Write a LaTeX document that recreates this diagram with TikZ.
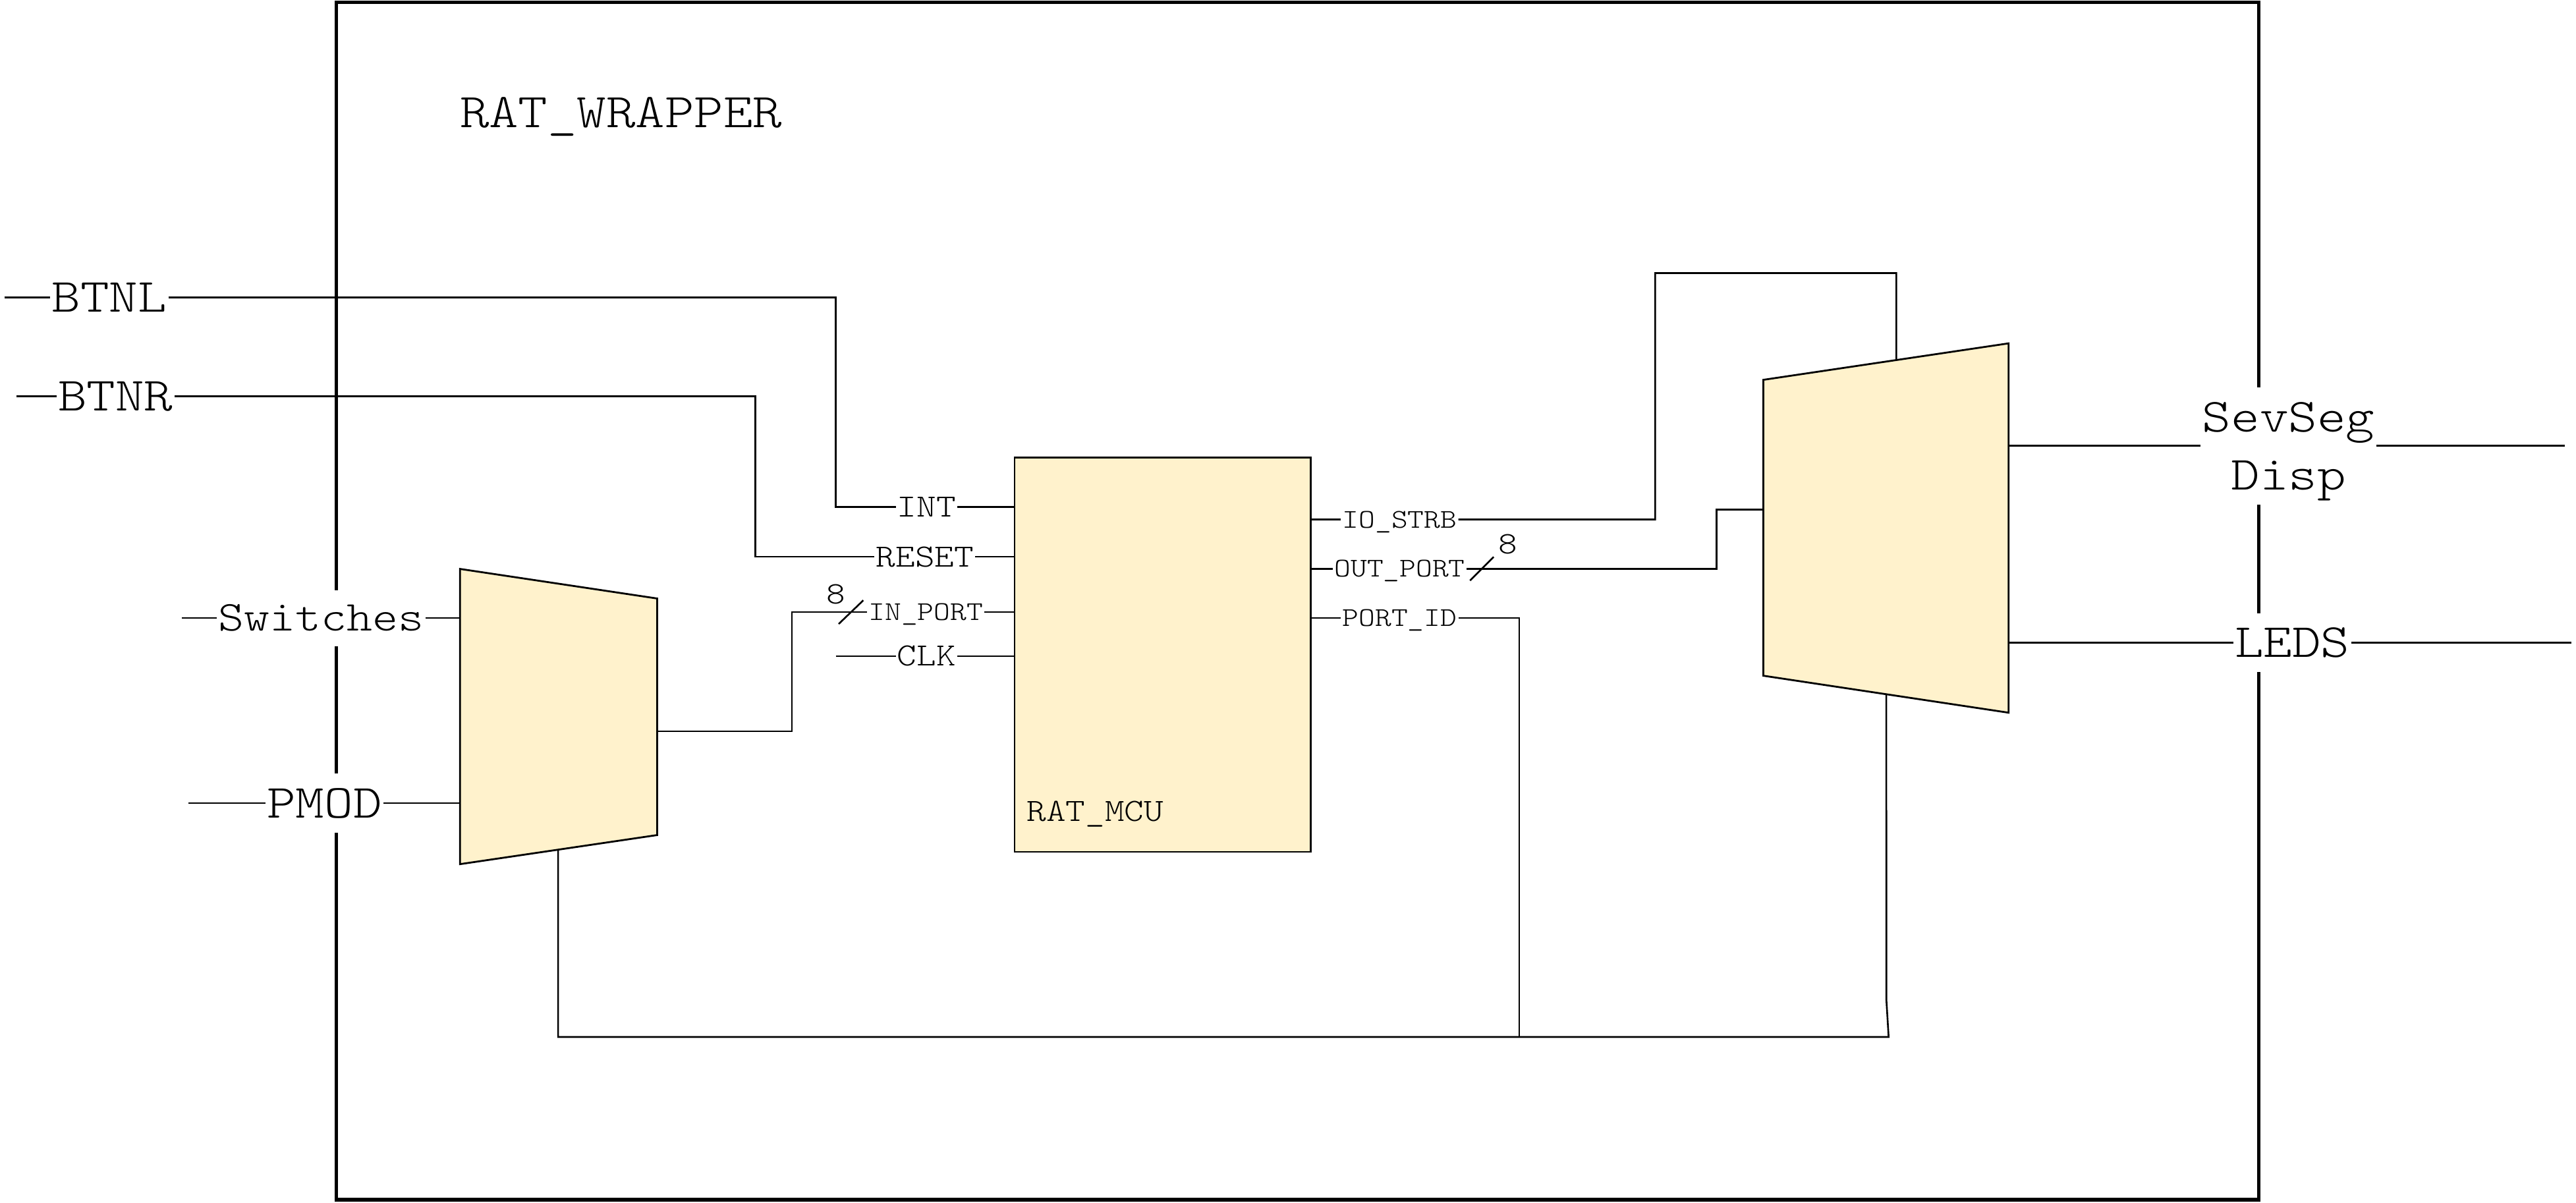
\documentclass[tikz,border=0pt]{standalone}
\usepackage{fontspec}
\setmonofont{lmmonolt10-regular.otf}[FakeStretch=1.15]
\usetikzlibrary{calc}
\definecolor{blockfill}{RGB}{255,242,204}
\tikzset{
    wrapbox/.style={draw=black,line width=1.5pt},
    blockbox/.style={draw=black,fill=blockfill,line width=0.8pt},
    wire/.style={draw=black,line width=0.75pt},
    extsig/.style={font=\ttfamily\fontsize{20.6}{24}\selectfont,fill=white,inner xsep=0.5pt,inner ysep=6.5pt,text height=12.6pt,text depth=0pt},
    pinbig/.style={font=\ttfamily\fontsize{14}{16}\selectfont,inner xsep=0.5pt,inner ysep=1pt,text height=8.55pt,text depth=0pt},
    pinsmall/.style={font=\ttfamily\fontsize{11.7}{14}\selectfont,inner xsep=0.5pt,inner ysep=1pt,text height=7.15pt,text depth=0pt},
    buswidth/.style={font=\ttfamily\fontsize{13.5}{15}\selectfont,inner sep=0pt,text height=8.2pt,text depth=0pt}
}
\begin{document}
\begin{tikzpicture}[x=0.025cm,y=-0.025cm]
    \useasboundingbox (0,0) rectangle (1568,732);
    \draw[wrapbox] (204.6,1.3) rectangle (1374.9,730.3);
    \node[font=\ttfamily\fontsize{21}{24}\selectfont,anchor=base] (wrapname) at (378,77.5) {RAT\_WRAPPER};

    \node[blockbox,minimum width=4.505cm,minimum height=5.998cm,inner sep=0pt] (mcu) at (707.7,398.55) {};
    \node[pinbig,anchor=base west] (mcuname) at (624,499.7) {RAT\_MCU};

    \coordinate (m1tl) at (280,346.3);
    \coordinate (m1tr) at (400,364.3);
    \coordinate (m1br) at (400,508.3);
    \coordinate (m1bl) at (280,526);
    \draw[blockbox] (m1tl) -- (m1tr) -- (m1br) -- (m1bl) -- cycle;
    \coordinate (m2tl) at (1073.3,231.2);
    \coordinate (m2tr) at (1222.6,209);
    \coordinate (m2br) at (1222.6,433.8);
    \coordinate (m2bl) at (1073.3,411.3);
    \draw[blockbox] (m2tl) -- (m2tr) -- (m2br) -- (m2bl) -- cycle;

    \node[extsig] (btnl) at (66.5,181.1) {BTNL};
    \node[extsig] (btnr) at (70.3,241.3) {BTNR};
    \node[extsig,font=\ttfamily\fontsize{18.4}{22}\selectfont,text height=11.2pt] (switches) at (195.4,376.2) {Switches};
    \node[extsig] (pmod) at (197.5,488.9) {PMOD};
    \node[extsig,anchor=base] (sevseg) at (1393,262.7) {SevSeg};
    \node[extsig,anchor=base] (sevdisp) at (1393,298.2) {Disp};
    \node[extsig] (leds) at (1395.3,391.2) {LEDS};

    \node[pinbig] (int) at (564,308.6) {INT};
    \node[pinbig] (reset) at (563,338.9) {RESET};
    \node[pinsmall] (inport) at (563.5,372.6) {IN\_PORT};
    \node[pinbig] (clk) at (564,399.4) {CLK};
    \node[pinsmall] (iostrb) at (852,316.2) {IO\_STRB};
    \node[pinsmall] (outport) at (852,346.2) {OUT\_PORT};
    \node[pinsmall] (portid) at (852,376.2) {PORT\_ID};
    \node[buswidth] (inwidth) at (509,361.8) {8};
    \node[buswidth] (outwidth) at (917.7,331.4) {8};

    \coordinate (btnlin) at (2.7,181.1);
    \coordinate (btnlbend) at (508.7,181.1);
    \coordinate (btnrin) at (10,241.3);
    \coordinate (btnrbend) at (459.8,241.3);
    \coordinate (clkin) at (508.7,399.4);
    \coordinate (swin) at (110.7,376.2);
    \coordinate (pmodin) at (114.7,488.9);
    \coordinate (m1out) at (400,445.1);
    \coordinate (inbend) at (482,445.1);
    \coordinate (inslash) at (518,372.6);
    \coordinate (m1sel) at ($(m1bl)!0.4975!(m1br)$);
    \coordinate (strbbend) at (1007.5,316.2);
    \coordinate (strbtop) at (1154.3,166.2);
    \coordinate (m2sel) at ($(m2tl)!0.5425!(m2tr)$);
    \coordinate (outslash) at (902,346.2);
    \coordinate (outbend) at (1044.9,346.2);
    \coordinate (m2in) at (1073.3,310.2);
    \coordinate (idbend) at (924.8,376.2);
    \coordinate (idjoin) at (924.8,631.2);
    \coordinate (buskink) at (1148.2,608.2);
    \coordinate (busend) at (1149.6,631.2);
    \coordinate (m2bot) at ($(m2bl)!0.5016!(m2br)$);
    \coordinate (m2seg) at (1222.6,271.3);
    \coordinate (m2led) at (1222.6,391.2);
    \coordinate (segout) at (1561.3,271.3);
    \coordinate (ledout) at (1565,391.2);

    \draw[wire] (btnlin) -- (btnl.west);
    \draw[wire] (btnl.east) -- (btnlbend) |- (int.west);
    \draw[wire] (int.east) -- (int -| mcu.west);
    \draw[wire] (btnrin) -- (btnr.west);
    \draw[wire] (btnr.east) -- (btnrbend) |- (reset.west);
    \draw[wire] (reset.east) -- (reset -| mcu.west);
    \draw[wire] (m1out) -- (inbend) |- (inport.west);
    \draw[wire] (inport.east) -- (inport -| mcu.west);
    \draw[wire] ([shift={(-7.5,7.2)}]inslash) -- ([shift={(7.5,-7.2)}]inslash);
    \draw[wire] (clkin) -- (clk.west);
    \draw[wire] (clk.east) -- (clk -| mcu.west);
    \draw[wire] (swin) -- (switches.west);
    \draw[wire] (switches.east) -- (switches -| m1tl);
    \draw[wire] (pmodin) -- (pmod.west);
    \draw[wire] (pmod.east) -- (pmod -| m1tl);
    \draw[wire] (mcu.east |- iostrb) -- (iostrb.west);
    \draw[wire] (iostrb.east) -- (strbbend) |- (strbtop) -- (m2sel);
    \draw[wire] (mcu.east |- outport) -- (outport.west);
    \draw[wire] (outport.east) -- (outbend) |- (m2in);
    \draw[wire] ([shift={(-7.2,7.2)}]outslash) -- ([shift={(7.2,-7.2)}]outslash);
    \draw[wire] (mcu.east |- portid) -- (portid.west);
    \draw[wire] (portid.east) -- (idbend) -- (idjoin);
    \draw[wire] (m1sel) -- (m1sel |- idjoin) -- (busend) -- (buskink) -- (m2bot);
    \draw[wire] (m2seg) -- (m2seg -| sevseg.west);
    \draw[wire] (sevseg.east |- m2seg) -- (segout);
    \draw[wire] (m2led) -- (leds.west);
    \draw[wire] (leds.east) -- (ledout);
\end{tikzpicture}
\end{document}
